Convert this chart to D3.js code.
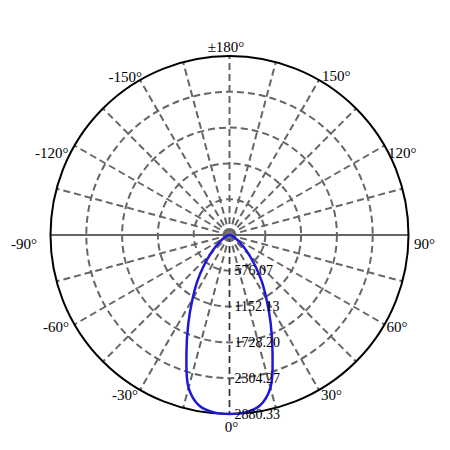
<!DOCTYPE html>
<html>
<head>
<meta charset="utf-8">
<script src="https://cdn.jsdelivr.net/npm/d3@7"></script>
<style>
  html, body { margin: 0; padding: 0; background: #fff; }
  svg { display: block; }
  text { font-family: "Liberation Serif", "Times New Roman", serif; fill: #000; }
</style>
</head>
<body>
<div id="chart"></div>
<script>
// luminous intensity (cd) per angle from the 0 axis, symmetric C0-C180 plane
const angles = [0, 5, 10, 15, 20, 25, 30, 35, 40, 45, 50, 55, 60, 65, 70, 75, 80, 85, 90,
  95, 100, 105, 110, 115, 120, 125, 130, 135, 140, 145, 150, 155, 160, 165, 170, 175, 180];
const intensity = [2880.33, 2865, 2790, 2545, 2025, 1568, 1190, 900, 640, 440, 290, 190, 128, 82, 50, 28, 14, 5, 0,
  0, 0, 0, 0, 0, 0, 0, 0, 0, 0, 0, 0, 0, 0, 0, 0, 0, 0];
const ringTicks = [576.07, 1152.13, 1728.20, 2304.27, 2880.33];
const angleTicks = [0, 30, 60, 90, 120, 150, 180, -150, -120, -90, -60, -30];
const angleText = ["0°", "30°", "60°", "90°", "120°", "150°", "±180°", "-150°", "-120°", "-90°", "-60°", "-30°"];

const W = 450, H = 450;
const cx = 229.5, cy = 235, R = 179;

const svg = d3.select("#chart").append("svg").attr("width", W).attr("height", H);
const g = svg.append("g").attr("transform", `translate(${cx},${cy})`);

const r = d3.scaleLinear().domain([0, d3.max(ringTicks)]).range([0, R]);
const rad = d => d * Math.PI / 180;
// 0 deg points down, 90 deg to the right
const pt = (deg, rr) => [rr * Math.sin(rad(deg)), rr * Math.cos(rad(deg))];

// inner rings
g.selectAll(".ring").data(ringTicks.slice(0, -1)).join("circle")
  .attr("r", d => r(d))
  .attr("fill", "none").attr("stroke", "#666").attr("stroke-width", 2)
  .attr("stroke-dasharray", "7,4");

// spokes every 15 deg
const spokes = d3.range(-165, 181, 15).filter(a => Math.abs(a) !== 90);
g.selectAll(".spoke").data(spokes).join("line")
  .attr("x1", 0).attr("y1", 0)
  .attr("x2", d => pt(d, R)[0]).attr("y2", d => pt(d, R)[1])
  .attr("stroke", "#666").attr("stroke-width", 2)
  .attr("stroke-dasharray", "7,4");
g.append("line")
  .attr("x1", -R).attr("x2", R).attr("y1", 0).attr("y2", 0)
  .attr("stroke", "#666").attr("stroke-width", 2);
// value axis
g.append("line")
  .attr("x1", 0).attr("y1", 0).attr("x2", 0).attr("y2", R)
  .attr("stroke", "#333").attr("stroke-width", 1)
  .attr("stroke-dasharray", "7,4");
g.append("circle").attr("r", 4).attr("fill", "#777");

// outer ring
g.append("circle").attr("r", R)
  .attr("fill", "none").attr("stroke", "#000").attr("stroke-width", 2);

// curve, mirrored onto both sides
const full = angles.map((a, i) => [-a, intensity[i]]).reverse()
  .concat(angles.slice(1, -1).map((a, i) => [a, intensity[i + 1]]));
const line = d3.lineRadial()
  .angle(d => Math.PI - rad(d[0]))
  .radius(d => r(d[1]))
  .curve(d3.curveCatmullRomClosed);
g.append("path").datum(full)
  .attr("d", line)
  .attr("fill", "none").attr("stroke", "#2018d8").attr("stroke-width", 2.5)
  .attr("stroke-linejoin", "round");

// value labels along the 0 axis
g.selectAll(".val").data(ringTicks).join("text")
  .attr("x", 5).attr("y", d => r(d) + 4.5)
  .attr("font-size", 14)
  .text(d => d.toFixed(2));

// angle labels
const labelOffset = {
  0: [2, 17.5], 30: [2, 9.5], 60: [2, 7.5], 90: [5.5, 14], 120: [3.5, 12.5], 150: [3, 1.5], 180: [-3.5, -4],
  "-30": [-2, 10], "-60": [-5.5, 7.5], "-90": [-13.5, 14], "-120": [-6, 12.5], "-150": [2, 2.5]
};
g.selectAll(".ang").data(angleTicks).join("text")
  .attr("x", d => pt(d, R)[0] + labelOffset[d][0])
  .attr("y", d => pt(d, R)[1] + labelOffset[d][1])
  .attr("text-anchor", d => (d === 0 || d === 180) ? "middle" : (d > 0 ? "start" : "end"))
  .attr("font-size", 15)
  .text((d, i) => angleText[i]);
</script>
</body>
</html>
